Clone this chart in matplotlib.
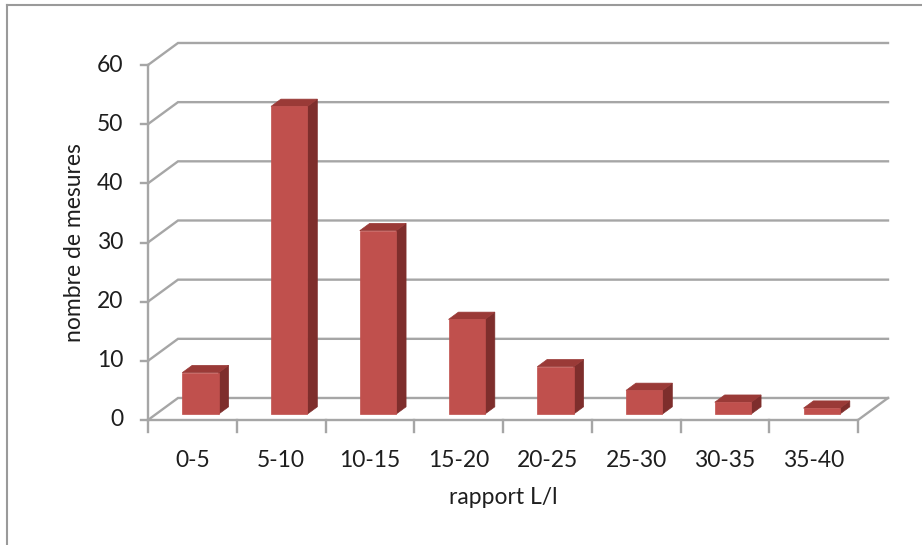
import matplotlib.pyplot as plt
from matplotlib.lines import Line2D
from matplotlib.patches import Polygon

# Histogram of length/width ratios
categories = ["0-5", "5-10", "10-15", "15-20", "20-25", "25-30", "30-35", "35-40"]
counts = [7, 52, 31, 16, 8, 4, 2, 1]
y_ticks = [0, 10, 20, 30, 40, 50, 60]

# pseudo-3D oblique projection (depth offset in data units)
DX = 0.338
DY = 3.72
BAR_W = 0.41
Z0, Z1 = 0.27, 0.60

FRONT = "#C0504D"
TOP = "#9A3A37"
SIDE = "#7E2E2C"
GRID = "#a6a6a6"
TEXT = "#1e1e1e"
FS = 16.5

plt.rcParams["font.family"] = ["Lato", "DejaVu Sans"]

W, H = 922, 545
fig = plt.figure(figsize=(W / 100, H / 100), dpi=100)
ax = fig.add_axes([148 / W, 1 - 420 / H, 710 / W, 355 / H])
ax.set_xlim(0, len(categories))
ax.set_ylim(0, 60)
ax.axis("off")


def proj(x, y, z):
    return x + z * DX, y + z * DY


# back wall gridlines with their diagonal on the left side
for v in y_ticks:
    x0, y0 = proj(0, v, 0)
    x1, y1 = proj(0, v, 1)
    x2, y2 = proj(len(categories), v, 1)
    ax.plot([x0, x1, x2], [y0, y1, y2], color=GRID, lw=1.7, clip_on=False,
            solid_joinstyle="miter", zorder=1)
    ax.plot([-0.08, 0], [v, v], color=GRID, lw=1.7, clip_on=False, zorder=1)
    ax.annotate(str(v), (0, v), xytext=(-18, 0), textcoords="offset points",
                ha="right", va="center", fontsize=FS, color=TEXT)

# front axis and floor
ax.plot([0, 0], [0, 60], color=GRID, lw=1.7, clip_on=False, zorder=1)
fx1, fy1 = proj(len(categories), 0, 1)
ax.plot([0, len(categories), fx1], [0, 0, fy1], color=GRID, lw=1.7,
        clip_on=False, solid_joinstyle="miter", zorder=1)
for i in range(len(categories) + 1):
    ax.plot([i, i], [0, -2.0], color=GRID, lw=1.7, clip_on=False, zorder=1)

# bars
for i, (cat, val) in enumerate(zip(categories, counts)):
    xl = i + 0.5 - BAR_W / 2
    xr = i + 0.5 + BAR_W / 2
    front = [proj(xl, 0, Z0), proj(xr, 0, Z0), proj(xr, val, Z0), proj(xl, val, Z0)]
    side = [proj(xr, 0, Z0), proj(xr, 0, Z1), proj(xr, val, Z1), proj(xr, val, Z0)]
    top = [proj(xl, val, Z0), proj(xr, val, Z0), proj(xr, val, Z1), proj(xl, val, Z1)]
    for pts, col in ((side, SIDE), (top, TOP), (front, FRONT)):
        ax.add_patch(Polygon(pts, closed=True, facecolor=col, edgecolor=col,
                             lw=0.5, clip_on=False, zorder=3))
    ax.annotate(cat, (i + 0.5, 0), xytext=(0, -29), textcoords="offset points",
                ha="center", va="center", fontsize=FS, color=TEXT)

ax.annotate("rapport L/l", (len(categories) / 2, 0), xytext=(0, -56),
            textcoords="offset points", ha="center", va="center",
            fontsize=FS, color=TEXT)
ax.annotate("nombre de mesures", (0, 30), xytext=(-53, 0),
            textcoords="offset points", ha="center", va="center",
            rotation=90, fontsize=FS, color=TEXT)

# chart area border (left and top edges)
fig.add_artist(Line2D([7 / W, 7 / W], [0, 1 - 5 / H], color="#9a9a9a", lw=1.5))
fig.add_artist(Line2D([7 / W, 1], [1 - 5 / H, 1 - 5 / H], color="#9a9a9a", lw=1.5))

fig.savefig("out.png", dpi=100)
